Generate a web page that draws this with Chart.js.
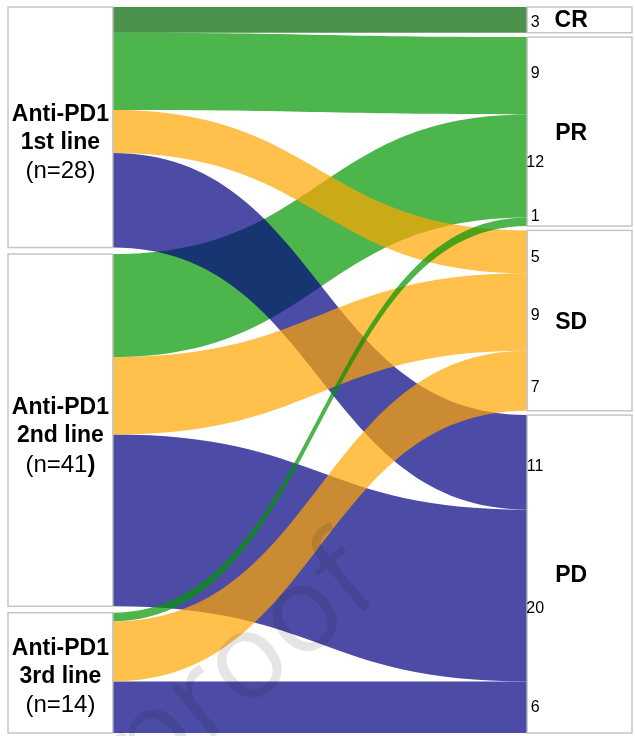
<!DOCTYPE html>
<html>
<head>
<meta charset="utf-8">
<script src="https://cdn.jsdelivr.net/npm/chart.js@4.4.0/dist/chart.umd.min.js"></script>
<style>
  html, body { margin: 0; padding: 0; background: #fff; }
  canvas { display: block; }
</style>
</head>
<body>
<canvas id="sankey" width="635" height="736"></canvas>
<script>
// left nodes = treatment line, right nodes = best response
var sourceTitle = ["Anti-PD1", "Anti-PD1", "Anti-PD1"];
var sourceLine = ["1st line", "2nd line", "3rd line"];
var sourceN = [28, 41, 14];
var targetNames = ["CR", "PR", "SD", "PD"];

// flows (source index -> target index)
var linkFrom  = [0, 0, 0, 0, 1, 1, 1, 2, 2, 2];
var linkTo    = [0, 1, 2, 3, 1, 2, 3, 1, 2, 3];
var linkValue = [3, 9, 5, 11, 12, 9, 20, 1, 7, 6];

var targetColors = ["rgba(0,100,0,0.7)", "rgba(0,150,0,0.7)", "rgba(255,165,0,0.7)", "rgba(0,0,128,0.7)"];
var drawOrder = [0, 1, 4, 3, 6, 9, 2, 5, 8, 7];
// small hand nudges of the text, as in the figure
var sourceLabelShift = [15, 6, 4];
var boldCloseParen = [false, true, false];
var valueLabelShift = [3, -2.5, 6, 4, -3.5, 3.5, 13, -5, 6.5, 0];

var NODE_W = 0.168;
var GAP_L = 0.75, GAP_R = 0.5;
var TOTAL = 83 + 2 * GAP_L;

var FONT = "'Liberation Sans', Arial, sans-serif";

var sankeyPlugin = {
  id: 'sankey',
  afterDatasetsDraw: function(chart) {
    var ctx = chart.ctx;
    var xs = chart.scales.x, ys = chart.scales.y;
    var i, k;

    // stack the nodes
    var srcStart = [], pos = 0;
    for (i = 0; i < sourceN.length; i++) { srcStart.push(pos); pos += sourceN[i] + GAP_L; }
    var tgtTotal = targetNames.map(function(t, j) {
      var s = 0;
      for (k = 0; k < linkValue.length; k++) if (linkTo[k] === j) s += linkValue[k];
      return s;
    });
    var tgtStart = []; pos = 0;
    for (i = 0; i < tgtTotal.length; i++) { tgtStart.push(pos); pos += tgtTotal[i] + GAP_R; }

    var sOff = srcStart.slice(), tOff = tgtStart.slice();
    var y0 = [], y1 = [];
    for (k = 0; k < linkValue.length; k++) {
      y0[k] = sOff[linkFrom[k]]; sOff[linkFrom[k]] += linkValue[k];
      y1[k] = tOff[linkTo[k]]; tOff[linkTo[k]] += linkValue[k];
    }

    var xa = xs.getPixelForValue(NODE_W), xb = xs.getPixelForValue(1 - NODE_W);
    var xm = (xa + xb) / 2;

    // flows
    drawOrder.forEach(function(k) {
      var v = linkValue[k];
      var a0 = ys.getPixelForValue(y0[k]), a1 = ys.getPixelForValue(y0[k] + v);
      var b0 = ys.getPixelForValue(y1[k]), b1 = ys.getPixelForValue(y1[k] + v);
      ctx.beginPath();
      ctx.moveTo(xa, a0);
      ctx.bezierCurveTo(xm, a0, xm, b0, xb, b0);
      ctx.lineTo(xb, b1);
      ctx.bezierCurveTo(xm, b1, xm, a1, xa, a1);
      ctx.closePath();
      ctx.fillStyle = targetColors[linkTo[k]];
      ctx.fill();
    });

    // node boxes
    ctx.lineWidth = 1.5;
    ctx.strokeStyle = "#c6c6c6";
    function box(x0, x1, v0, v1) {
      var t = ys.getPixelForValue(v0), b = ys.getPixelForValue(v1);
      ctx.fillStyle = "#fff";
      ctx.fillRect(x0, t, x1 - x0, b - t);
      ctx.strokeRect(x0, t, x1 - x0, b - t);
    }
    var xl0 = xs.getPixelForValue(0), xr1 = xs.getPixelForValue(1);
    for (i = 0; i < sourceN.length; i++) box(xl0, xa, srcStart[i], srcStart[i] + sourceN[i]);
    for (i = 0; i < tgtTotal.length; i++) box(xb, xr1, tgtStart[i], tgtStart[i] + tgtTotal[i]);

    // left labels
    ctx.fillStyle = "#000";
    ctx.textAlign = "center";
    ctx.textBaseline = "middle";
    var xlc = (xl0 + xa) / 2;
    for (i = 0; i < sourceN.length; i++) {
      var cy = ys.getPixelForValue(srcStart[i] + sourceN[i] / 2) + sourceLabelShift[i];
      ctx.font = "bold 23px " + FONT;
      ctx.fillText(sourceTitle[i], xlc, cy - 28);
      ctx.fillText(sourceLine[i], xlc, cy);
      var head = "(n=" + sourceN[i];
      ctx.font = "24px " + FONT;
      var wHead = ctx.measureText(head).width;
      ctx.font = (boldCloseParen[i] ? "bold " : "") + "24px " + FONT;
      var wTail = ctx.measureText(")").width;
      var left = xlc - (wHead + wTail) / 2;
      ctx.textAlign = "left";
      ctx.font = "24px " + FONT;
      ctx.fillText(head, left, cy + 29);
      ctx.font = (boldCloseParen[i] ? "bold " : "") + "24px " + FONT;
      ctx.fillText(")", left + wHead, cy + 29);
      ctx.textAlign = "center";
    }

    // right labels
    ctx.font = "bold 23px " + FONT;
    for (i = 0; i < targetNames.length; i++) {
      var sh = i === 0 ? 1 : 2;
      ctx.fillText(targetNames[i], xb + 44, ys.getPixelForValue(tgtStart[i] + tgtTotal[i] / 2) + sh);
    }

    // flow values at the target side
    ctx.font = "16px " + FONT;
    for (k = 0; k < linkValue.length; k++) {
      ctx.fillText(String(linkValue[k]), xb + 8,
        ys.getPixelForValue(y1[k] + linkValue[k] / 2) + valueLabelShift[k]);
    }
  },
  afterDraw: function(chart) {
    var ctx = chart.ctx;
    ctx.save();
    ctx.translate(384, 594);
    ctx.rotate(-40 * Math.PI / 180);
    ctx.font = "120px 'Open Sans', sans-serif";
    ctx.fillStyle = "rgba(0,0,0,0.1)";
    ctx.textAlign = "right";
    ctx.textBaseline = "alphabetic";
    ctx.fillText("Journal Pre-proof", 0, 0);
    ctx.restore();
  }
};

var ctx = document.getElementById("sankey").getContext("2d");
var chart = new Chart(ctx, {
  type: 'scatter',
  data: { datasets: [{ data: [] }] },
  options: {
    responsive: false,
    animation: false,
    devicePixelRatio: 1,
    layout: { padding: { left: 8, right: 3, top: 7, bottom: 3 } },
    scales: {
      x: { type: 'linear', min: 0, max: 1, display: false },
      y: { type: 'linear', min: 0, max: TOTAL, reverse: true, display: false }
    },
    plugins: { legend: { display: false }, tooltip: { enabled: false } }
  },
  plugins: [sankeyPlugin]
});
</script>
</body>
</html>
